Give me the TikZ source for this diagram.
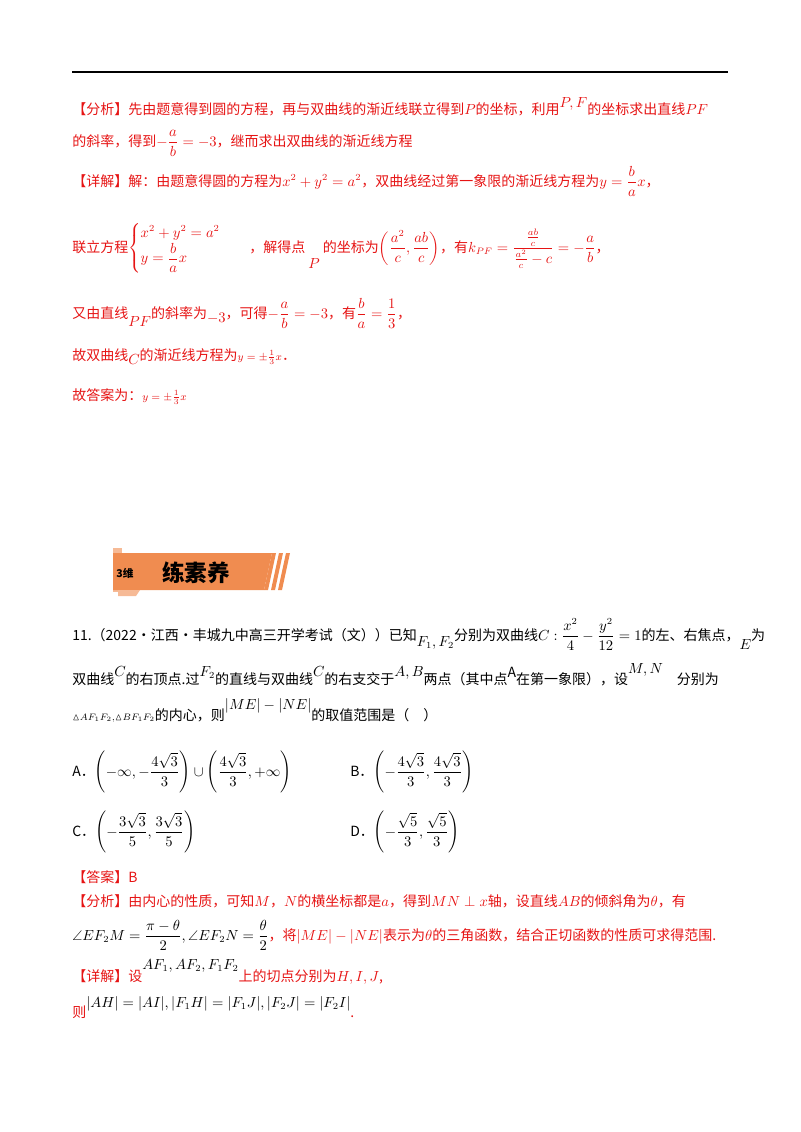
\documentclass[tikz,border=0pt]{standalone}
\usepackage{amsmath,amssymb}
\usepackage{fontspec}
\setmainfont{Liberation Serif}
\newfontfamily\cjk{Noto Sans CJK SC}
\definecolor{ans}{RGB}{230,20,20}
\definecolor{ban}{RGB}{240,140,80}
\begin{document}
\begin{tikzpicture}[x=0.75pt,y=-0.75pt,
  t/.style={anchor=base west,inner sep=0pt,font=\cjk\fontsize{10.5}{12}\selectfont},
  r/.style={t,text=ans}]
\useasboundingbox (0,0) rectangle (800,1132);
\draw[line width=1.5pt] (72,72) -- (728,72);
\node[r] (l1) at (72,114) {【分析】先由题意得到圆的方程，再与双曲线的渐近线联立得到$P$的坐标，利用\raisebox{5pt}{$P,F$}的坐标求出直线$PF$};
\node[r] (l2) at (72,146) {的斜率，得到$-\dfrac{a}{b}=-3$，继而求出双曲线的渐近线方程};
\node[r] (l3) at (72,186) {【详解】解：由题意得圆的方程为$x^2+y^2=a^2$，双曲线经过第一象限的渐近线方程为$y=\dfrac{b}{a}x$，};
\node[r] (l4) at (72,252) {联立方程$\begin{cases}x^2+y^2=a^2\\ y=\dfrac{b}{a}x\end{cases}$\quad ，解得点\ \raisebox{-12pt}{$P$}\ 的坐标为$\left(\dfrac{a^2}{c},\dfrac{ab}{c}\right)$，有$k_{PF}=\dfrac{\frac{ab}{c}}{\frac{a^2}{c}-c}=-\dfrac{a}{b}$，};
\node[r] (l5) at (72,318) {又由直线\raisebox{-6pt}{$PF$}的斜率为\raisebox{-3pt}{$-3$}，可得$-\dfrac{a}{b}=-3$，有$\dfrac{b}{a}=\dfrac13$，};
\node[r] (l6) at (72,360) {故双曲线\raisebox{-3pt}{$C$}的渐近线方程为{\footnotesize$y=\pm\frac13x$}．};
\node[r] (l7) at (72,400) {故答案为：{\footnotesize$y=\pm\frac13x$}};
% banner
\fill[ban!60] (113,548) -- (122,548) -- (122,592) -- (113,592) -- cycle;
\fill[ban] (113,553) -- (272,553) -- (264,590) -- (113,590) -- cycle;
\fill[ban!60] (118,590) -- (140,590) -- (136,596) -- (118,596) -- cycle;
\foreach \i in {0,7,14}{\fill[ban] (272+\i,553) -- (276+\i,553) -- (268+\i,590) -- (264+\i,590) -- cycle;}
\node[t,font=\cjk\bfseries\fontsize{8}{9}\selectfont] (b1) at (116,577) {3维};
\node[t,font=\cjk\bfseries\fontsize{17}{18}\selectfont] (b2) at (162,581) {练素养};
\node[t] (q1) at (72,640) {11.（2022·江西·丰城九中高三开学考试（文））已知\raisebox{-5pt}{$F_1,F_2$}分别为双曲线$C:\dfrac{x^2}{4}-\dfrac{y^2}{12}=1$的左、右焦点，\raisebox{-7pt}{$E$}为};
\node[t] (q2) at (72,684) {双曲线\raisebox{6pt}{$C$}的右顶点.过\raisebox{6pt}{$F_2$}的直线与双曲线\raisebox{6pt}{$C$}的右支交于\raisebox{6pt}{$A,B$}两点（其中点\raisebox{5pt}{A}在第一象限），设\raisebox{8pt}{$M,N$}\quad 分别为};
\node[t] (q3) at (72,720) {$\scriptstyle\vartriangle AF_1F_2,\vartriangle BF_1F_2$的内心，则\raisebox{8pt}{$|ME|-|NE|$}的取值范围是（\quad ）};
\node[t] (oa) at (72,776) {A．$\left(-\infty,-\dfrac{4\sqrt3}{3}\right)\cup\left(\dfrac{4\sqrt3}{3},+\infty\right)$};
\node[t] (ob) at (350,776) {B．$\left(-\dfrac{4\sqrt3}{3},\dfrac{4\sqrt3}{3}\right)$};
\node[t] (oc) at (72,836) {C．$\left(-\dfrac{3\sqrt3}{5},\dfrac{3\sqrt3}{5}\right)$};
\node[t] (od) at (350,836) {D．$\left(-\dfrac{\sqrt5}{3},\dfrac{\sqrt5}{3}\right)$};
\node[r] (a1) at (72,882) {【答案】B};
\node[r] (a2) at (72,906) {【分析】由内心的性质，可知$M$，$N$的横坐标都是$a$，得到$MN\perp x$轴，设直线$AB$的倾斜角为$\theta$，有};
\node[r] (a3) at (72,940) {\color{black}$\angle EF_2M=\dfrac{\pi-\theta}{2},\angle EF_2N=\dfrac{\theta}{2}$\color{ans}，将$|ME|-|NE|$表示为$\theta$的三角函数，结合正切函数的性质可求得范围.};
\node[r] (a4) at (72,981) {【详解】设\raisebox{9pt}{\color{black}$AF_1,AF_2,F_1F_2$}上的切点分别为$H,I,J$,};
\node[r] (a5) at (72,1017) {则\raisebox{7pt}{\color{black}$|AH|=|AI|,|F_1H|=|F_1J|,|F_2J|=|F_2I|$}.};
\end{tikzpicture}
\end{document}
